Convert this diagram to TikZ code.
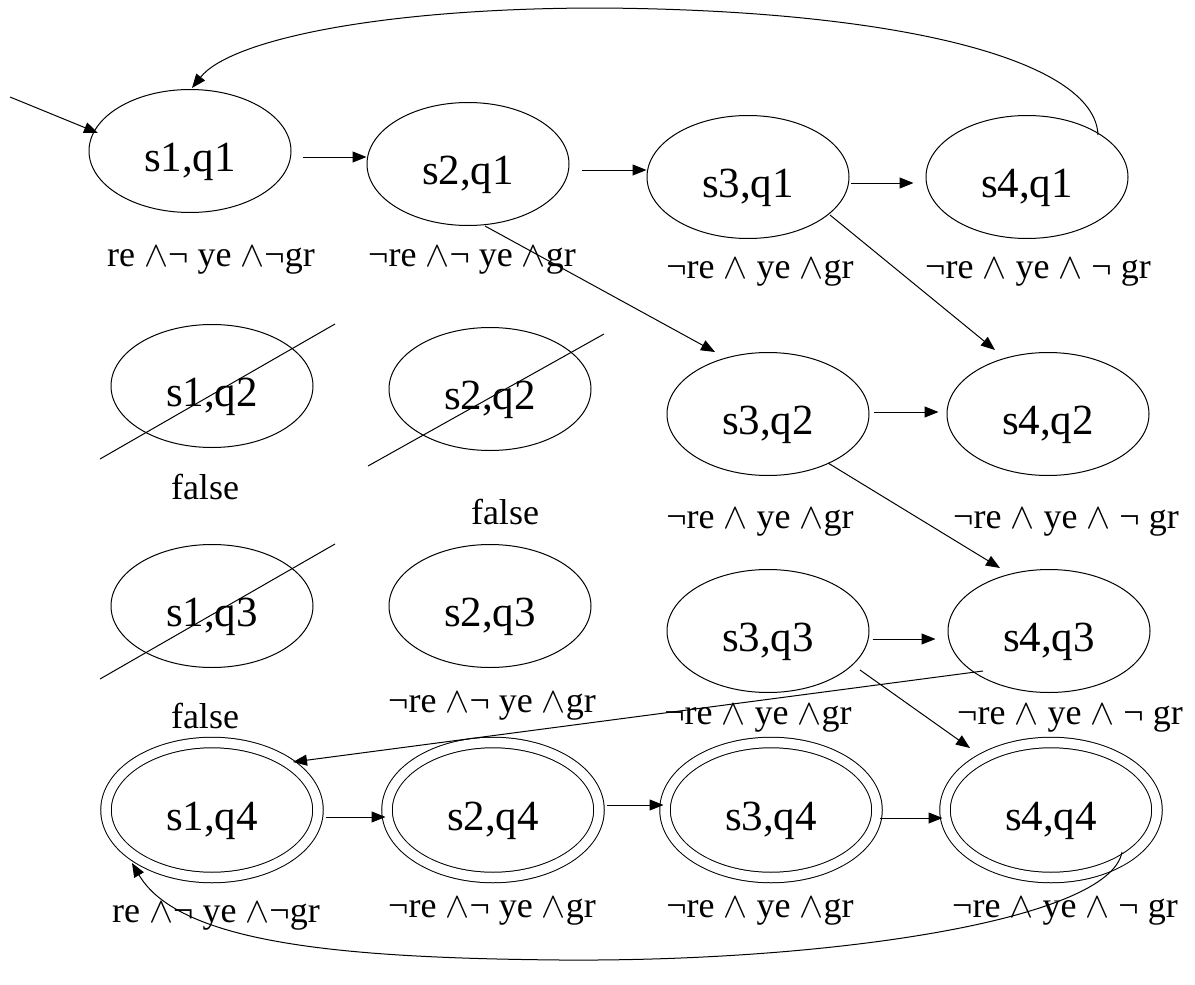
\RequirePackage{fix-cm}
\documentclass[tikz,border=0pt]{standalone}
\usepackage{fontspec}
\setmainfont{Liberation Serif}
\usetikzlibrary{shapes.geometric,arrows.meta}
\newcommand{\A}{${\wedge}$}
\newcommand{\N}{¬}
\begin{document}
\begin{tikzpicture}[x=1pt,y=-1pt,line width=1pt,
  st/.style={draw,ellipse,minimum width=202pt,minimum height=123pt,inner sep=0pt,text height=40pt,text depth=0pt,font=\fontsize{43}{45}\selectfont},
  acc/.style={draw,double,double distance=9.5pt,ellipse,minimum width=212pt,minimum height=135pt,inner sep=0pt,text height=40pt,text depth=0pt,font=\fontsize{43}{45}\selectfont},
  lab/.style={font=\fontsize{36}{38}\selectfont,inner sep=0pt},
  arr/.style={-{Triangle[length=14pt,width=11pt]}}]
\useasboundingbox (0,0) rectangle (1195,985);
% states
\node[st] (s11) at (190,151) {s1,q1};
\node[st] (s21) at (468,164) {s2,q1};
\node[st] (s31) at (748,177) {s3,q1};
\node[st] (s41) at (1027,177) {s4,q1};
\node[st] (s12) at (212,386) {s1,q2};
\node[st] (s22) at (490,389) {s2,q2};
\node[st] (s32) at (768,414) {s3,q2};
\node[st] (s42) at (1048,414) {s4,q2};
\node[st] (s13) at (212,606) {s1,q3};
\node[st] (s23) at (490,606) {s2,q3};
\node[st] (s33) at (768,631) {s3,q3};
\node[st] (s43) at (1049,631) {s4,q3};
\node[acc] (s14) at (212,810) {s1,q4};
\node[acc] (s24) at (493,810) {s2,q4};
\node[acc] (s34) at (771,810) {s3,q4};
\node[acc] (s44) at (1051,810) {s4,q4};
% labels
\node[lab] (l11) at (211,260) {re \A\N\ ye \A\N gr};
\node[lab] (l21) at (472,260) {\N re \A\N\ ye \A gr};
\node[lab] (l31) at (760,272) {\N re \A\ ye \A gr};
\node[lab] (l41) at (1038,272) {\N re \A\ ye \A\ \N\ gr};
\node[lab] (f12) at (205,487) {false};
\node[lab] (f22) at (505,512) {false};
\node[lab] (l32) at (760,522) {\N re \A\ ye \A gr};
\node[lab] (l42) at (1066,522) {\N re \A\ ye \A\ \N\ gr};
\node[lab] (f13) at (205,716) {false};
\node[lab] (l23) at (492,706) {\N re \A\N\ ye \A gr};
\node[lab] (l33) at (758,718) {\N re \A\ ye \A gr};
\node[lab] (l43) at (1070,718) {\N re \A\ ye \A\ \N\ gr};
\node[lab] (l14) at (216,916) {re \A\N\ ye \A\N gr};
\node[lab] (l24) at (492,911) {\N re \A\N\ ye \A gr};
\node[lab] (l34) at (760,911) {\N re \A\ ye \A gr};
\node[lab] (l44) at (1065,911) {\N re \A\ ye \A\ \N\ gr};
% crossings
\draw ([shift={(-112,73)}]s12.center) -- ([shift={(123,-62)}]s12.center);
\draw ([shift={(-122,77)}]s22.center) -- ([shift={(114,-55)}]s22.center);
\draw ([shift={(-112,73)}]s13.center) -- ([shift={(123,-62)}]s13.center);
% initial
\coordinate (init) at (10,97);
\draw[arr] (init) -- ([shift={(-92,-18)}]s11.center);
% row arrows
\draw[arr] ([shift={(11,6)}]s11.east) -- ([shift={(0,-7)}]s21.west);
\draw[arr] ([shift={(12,6)}]s21.east) -- ([shift={(0,-7)}]s31.west);
\draw[arr] ([shift={(1,6)}]s31.east) -- ([shift={(-12,6)}]s41.west);
\draw[arr] ([shift={(4,-2)}]s32.east) -- ([shift={(-8,-2)}]s42.west);
\draw[arr] ([shift={(3,8)}]s33.east) -- ([shift={(-12,8)}]s43.west);
\draw[arr] ([shift={(7,7)}]s14.east) -- ([shift={(-1,7)}]s24.west);
\draw[arr] ([shift={(7,-5)}]s24.east) -- ([shift={(-1,-5)}]s34.west);
\draw[arr] ([shift={(2,8)}]s34.east) -- ([shift={(-2,8)}]s44.west);
% diagonals
\draw[arr] ([shift={(17,62)}]s21.center) -- ([shift={(-53,-62)}]s32.center);
\draw[arr] ([shift={(82,38)}]s31.center) -- ([shift={(-53,-64)}]s42.center);
\draw[arr] ([shift={(60,49)}]s32.center) -- ([shift={(-49,-63)}]s43.center);
\draw[arr] ([shift={(92,39)}]s33.center) -- ([shift={(-81,-62)}]s44.center);
\draw[arr] ([shift={(-66,40)}]s43.center) -- ([shift={(81,-48)}]s14.center);
% loops
\draw[arr] ([shift={(71,-42)}]s41.center) .. controls (1095,60) and (900,10) .. (600,8) .. controls (380,8) and (230,40) .. ([shift={(2,-63)}]s11.center);
\draw[arr] ([shift={(71,42)}]s44.center) .. controls (1110,920) and (830,962) .. (560,960) .. controls (350,958) and (180,945) .. ([shift={(-80,53)}]s14.center);
\end{tikzpicture}
\end{document}
